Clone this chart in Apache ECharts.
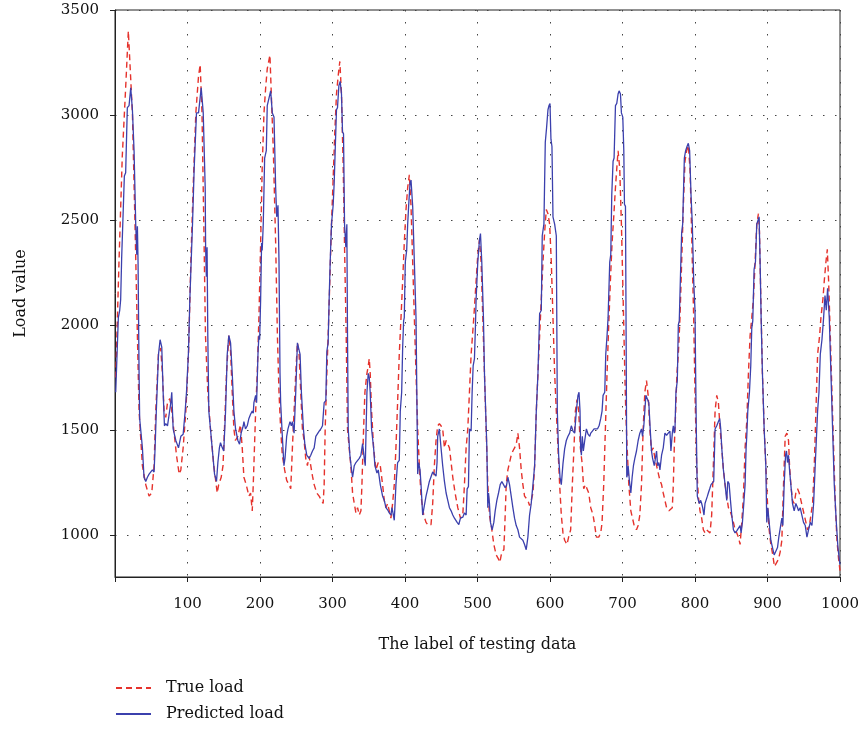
<!DOCTYPE html>
<html>
<head>
<meta charset="utf-8">
<script src="https://cdn.jsdelivr.net/npm/echarts@6/dist/echarts.min.js"></script>
<style>html,body{margin:0;padding:0;background:#fff}#c{width:863px;height:730px}</style>
</head>
<body>
<div id="c"></div>
<script>
const yTicks = [1000, 1500, 2000, 2500, 3000, 3500];
const seriesNames = ['True load', 'Predicted load'];

// [sample label, load value]
const trueLoad = [[1,1750],[5.5,2300],[10,2800],[14.7,3130],[18.4,3400],[24,3010],[27.6,2480],[30.9,1950],[33.2,1590],[37.8,1330],[42.4,1240],[47,1185],[50.7,1200],[53.9,1330],[56.2,1590],[59.9,1860],[63,1890],[65.4,1770],[67.7,1590],[70,1560],[72.4,1630],[75.6,1650],[78.3,1590],[81.6,1485],[84.8,1380],[88.5,1290],[90.8,1310],[94,1415],[97.7,1590],[101.4,1860],[104.6,2300],[107.8,2655],[111.5,3010],[115.2,3185],[117.5,3240],
[120,3010],[122.5,2480],[124.8,1950],[128,1680],[131.7,1505],[136.3,1330],[141,1200],[143,1240],[146.5,1275],[149,1330],[151,1505],[153.8,1770],[157,1950],[159.4,1875],[161.7,1680],[164,1505],[166,1450],[169.5,1470],[173,1525],[175.5,1415],[177.8,1275],[181,1240],[184.7,1185],[187,1200],[189.3,1115],[190.7,1240],[194,1590],[196.2,1770],[198.5,2035],[200.9,2390],[203,2745],[205.5,3010],[207.8,3130],[210,3220],[213.7,3285],[215.6,3100],[218.4,2830],[221.6,2390],[224,1950],[226.2,1680],[228.5,1505],[230.8,1380],[234,1310],[236.8,1260],[240,1240],
[242.4,1220],[244.7,1415],[247,1590],[249.3,1770],[251.6,1915],[253.9,1860],[256.2,1680],[258.5,1505],[260.8,1450],[263.1,1365],[265.4,1330],[267.7,1375],[270,1330],[272.4,1280],[274.7,1240],[278.3,1200],[281.6,1185],[284.8,1165],[287.1,1150],[288.5,1240],[289.9,1505],[292.2,1770],[294,1950],[296.3,2210],[298.6,2480],[301.4,2745],[303.2,2920],[305.5,3100],[307.8,3185],[310.1,3255],[312.4,3100],[314.8,2745],[317,2300],[318.9,1950],[320.7,1505],[323,1415],[325.3,1330],[327.7,1200],[330,1150],[332.3,1105],[334.6,1130],[336.9,1095],[339.2,1115],[340.6,1240],[342.9,1505],[344.7,1680],[347.5,1770],[349.3,1805],[350.7,1840],[352,1770],[353.9,1590],[356.7,1415],[359.9,1310],[363.1,1345],[365.9,1330],
[369.1,1240],[371.4,1165],[373.7,1130],[376,1150],[378.3,1115],[380.6,1080],[382.9,1150],[385.2,1240],[387.5,1415],[389.8,1630],[392.1,1860],[394.5,2035],[396.8,2210],[399,2390],[401.4,2550],[403.7,2655],[406,2715],[408.3,2565],[410.6,2300],[412.9,2035],[415.2,1770],[417.5,1505],[419.8,1330],[422.1,1185],[425.8,1095],[429,1060],[432.2,1045],[435.9,1050],[438.2,1150],[440.5,1330],[442.8,1450],[445.1,1520],[447.4,1530],[449.7,1520],[452,1505],[454.4,1415],[456.7,1450],[459,1450],[461.3,1415],[463.6,1345],[465.9,1275],[469.1,1200],[472.8,1130],[476.5,1080],[479.7,1095],[482,1240],[484.3,1415],[486.6,1505],[488.9,1680],[491.2,1860],[494.9,2035],[498.1,2210],[500.4,2335],[502.7,2405],
[505,2300],[507.3,2035],[509.6,1770],[511.9,1505],[514.2,1240],[516.5,1095],[519.8,1025],[522.5,955],[525.8,905],[529,885],[530.8,870],[533.6,920],[536.4,930],[538.2,1095],[539.6,1240],[541.9,1310],[544.2,1345],[546.5,1380],[548.8,1400],[551.1,1415],[553.4,1430],[555.7,1485],[558,1415],[560.3,1310],[562.6,1240],[564.9,1185],[567.2,1175],[569.5,1165],[571.8,1140],[574.1,1165],[576.5,1200],[578.8,1330],[581.1,1590],[583.4,1770],[585.7,1950],[588,2125],[590.3,2300],[592.6,2440],[594.9,2550],[597.2,2530],[599.5,2480],[601.8,2300],[604.1,2035],[606.4,1770],[608.7,1590],[611,1415],[613.3,1240],[615.6,1095],
[617.9,1010],[620.2,975],[623.4,955],[625.7,990],[628.5,1025],[630.8,1240],[633.1,1415],[635,1590],[637.3,1645],[639.6,1590],[641.9,1415],[644.2,1345],[646.5,1220],[648.8,1240],[651.1,1240],[653.4,1200],[656.2,1130],[659.4,1095],[661.7,1045],[664,990],[667.2,990],[670,1010],[671.8,1060],[674.1,1240],[676.4,1505],[678.7,1770],[681,2000],[683.3,2210],[685.6,2390],[687.9,2515],[690.3,2655],[692.1,2745],[693.9,2830],[696.2,2745],[698.5,2480],[700.9,2125],[703.2,1770],[704.5,1590],[706.4,1415],[708.7,1240],[711.5,1115],[713.8,1080],[716.1,1045],[719.3,1025],[721.6,1045],[723.9,1095],[726.2,1240],[728.5,1505],[730.8,1680],[733.1,1735],[735.4,1665],[737.7,1505],[740,1400],
[742.4,1415],[744.7,1365],[747,1330],[749.3,1295],[751.6,1260],[753.9,1240],[756.2,1200],[758.5,1165],[760.8,1130],[764.1,1115],[766.8,1115],[768.7,1130],[770.1,1240],[771.4,1415],[773.3,1590],[775.1,1770],[777,1860],[779.3,2035],[781.6,2300],[783.9,2565],[786.2,2780],[788.5,2830],[790.8,2855],[793.1,2745],[794.5,2565],[796.3,2300],[798.2,2035],[800,1680],[802.3,1330],[804.6,1185],[806.9,1115],[809.2,1080],[811.5,1025],[813.8,1010],[816.1,1025],[818.4,1025],[820.7,1010],[823,1095],[825.3,1330],[827.7,1590],[830,1665],[832.3,1630],[834.6,1505],[836.9,1415],[839.2,1310],[841.5,1240],[843.8,1185],[846.1,1130],[848.4,1115],[850.7,1090],[853,1060],[855.3,1025],[857.6,1010],[859.9,990],[862.2,955],[864.5,1060],[866.8,1185],[869.1,1415],[871.4,1540],
[873.7,1770],[876,1950],[878.3,2035],[880.6,2125],[882.9,2300],[885.2,2480],[887.5,2530],[888.9,2445],[890.8,2125],[893,1770],[895.4,1505],[897.7,1330],[900,1150],[902.3,1025],[904.6,955],[907.3,905],[909.6,850],[912,865],[915.2,885],[917.5,920],[919.8,975],[922.1,1240],[924.4,1470],[926.7,1485],[929,1450],[930.4,1330],[932.2,1240],[934.5,1165],[936.8,1150],[939.1,1200],[941.5,1220],[943.8,1200],[946.1,1165],[948.4,1130],[950.7,1095],[953,1060],[955.3,1025],[957.6,1040],[959.9,1095],[962.2,1150],[964.5,1330],[966.8,1590],[969.1,1860],[971.9,1950],[973.7,2035],[976.5,2125],[978.3,2210],[980.6,2300],[982.5,2360],[984.3,2210],[986.6,1950],[988.9,1680],[991.2,1415],[993.5,1150],[995.8,975],[998.1,885],[1000,830]];

const predictedLoad = [[1,1680],[4.6,2035],[6.5,2070],[7.8,2120],[9.2,2320],[11.5,2320],[12.9,2710],[14.7,2725],[17,3035],[19.4,3045],[21.7,3130],[24,3025],[26.3,2830],[28.6,2480],[30,2335],[30.9,2470],[31.8,2300],[33.2,1770],[34,1555],[36,1550],[37.8,1415],[40,1275],[42.4,1255],[44.7,1275],[47,1290],[49.3,1290],[51.6,1310],[53.9,1300],[55.3,1415],[57,1590],[60,1860],[62.2,1930],[64.5,1895],[66.4,1680],[68.2,1520],[70,1530],[72.4,1520],[74.7,1575],[77,1630],[78.3,1680],[80.2,1505],[83.9,1450],[87.6,1415],[90.8,1470],[94,1480],[96.8,1590],[98.6,1680],[101.4,1875],[103.2,2120],[106.9,2480],[109.2,2745],[112.4,3010],[115.2,3010],[118.9,3130],[121.7,3010],[124.4,2655],[125,2370],[126,2230],[127,2370],[128,1950],[129.4,1590],[131.7,1505],[134,1415],[137.3,1290],[140,1255],[141.9,1345],[144,1415],[145.5,1440],[148,1415],[150,1400],[152.5,1590],[154.8,1860],[157,1950],[159.4,1915],[161.7,1770],[164,1590],[166.3,1505],[169.5,1450],[171.8,1432],[174,1485],[176.9,1520],[177.8,1540],[180,1505],[182.4,1520],[184.7,1555],[187,1575],[189.3,1590],[190.7,1580],[191.6,1630],[194,1665],[195.3,1630],[197.2,1860],[198.5,1950],[199.5,1930],[200.9,2125],[202.2,2390],[203,2355],[204.5,2480],[206.4,2795],[208.7,2830],[210,3045],[212.4,3080],[214.7,3115],[217,3010],[219.3,2990],[221.6,2655],[223,2515],[224.8,2570],[226.2,2300],[227.6,1770],[228.5,1630],[230.8,1470],[233,1330],[234.5,1365],[236.8,1470],[238.6,1505],[241.4,1540],[243.2,1520],[244.7,1540],[247,1485],[249.3,1680],[251.6,1915],[253.5,1920],[255.3,1860],[257.1,1680],[259.9,1505],[261.8,1435],[264.5,1380],[267.7,1365],[270,1380],[272.4,1400],[274.7,1415],[277,1470],[279.3,1470],[281.6,1495],[283.9,1505],[286.2,1520],[288.5,1630],[290.8,1640],[292.2,1875],[294,1915],[295.4,2125],[296.8,2300],[298.6,2480],[300.9,2570],[302.3,2675],[303.7,2830],[305.5,3025],[306.9,3035],[308.8,3140],[310.6,3160],[312.4,3100],[313.8,2920],[315.2,2910],[316.6,2480],[318.4,2370],[319.8,2480],[320.7,1950],[321.7,1505],[324,1380],[326.3,1310],[327.7,1275],[330,1330],[332.3,1345],[334.6,1345],[336.9,1365],[339.2,1380],[341.5,1435],[343.8,1365],[345.2,1330],[347.5,1680],[349.3,1770],[350.7,1750],[352,1680],[353.9,1505],[356.7,1415],[358.5,1330],[361.3,1295],[363.1,1310],[365.9,1240],[369.1,1185],[371.4,1165],[373.7,1130],[376,1120],[378.3,1105],[380.6,1095],[382,1130],[383.4,1105],[385.2,1070],[387.5,1240],[389.8,1345],[392.1,1355],[393.5,1590],[395.4,1680],[396.8,1895],[398.1,2020],[399,2035],[400.4,2300],[402.3,2355],[403.7,2480],[405,2565],[406.9,2675],[408.3,2690],[410.6,2565],[412.9,2300],[415.2,2035],[417.5,1290],[418.9,1345],[420.7,1310],[422.1,1240],[424.4,1095],[426.7,1095],[429,1185],[431.3,1220],[433.6,1255],[435.9,1255],[438.2,1300],[440.5,1290],[442.8,1280],[444.2,1345],[445.1,1470],[447.4,1505],[449.7,1415],[452,1330],[454.4,1255],[456.7,1200],[459,1165],[461.3,1130],[463.6,1115],[465.9,1095],[468.2,1080],[471.9,1060],[474.2,1050],[476.5,1080],[478.3,1080],[479.7,1085],[482,1105],[484.3,1095],[485.7,1220],[487.5,1230],[488.9,1505],[491.2,1495],[492.6,1680],[494,1805],[495.8,1840],[497.2,2000],[498.1,2125],[500.4,2300],[502.7,2405],[504.1,2435],[505.9,2300],[508.2,2035],[509.6,1770],[511.9,1770],[512.9,1415],[514.2,1130],[515.2,1200],[516.5,1150],[517.9,1060],[520.2,1025],[522.5,1060],[524.4,1115],[526.7,1165],[529,1200],[531.3,1240],[533.6,1255],[535.9,1240],[538.2,1225],[540,1235],[541.9,1275],[544.2,1240],[546.5,1185],[548.8,1130],[551.1,1080],[553.4,1045],[555.7,1025],[558,990],[560.3,990],[562.6,975],[564.9,955],[567.2,930],[569.5,990],[571.8,1095],[574.1,1150],[576.5,1240],[578.8,1330],[581.1,1590],[583.4,1770],[585.7,2055],[588,2070],[589.3,2425],[591.6,2480],[593.5,2870],[595.3,2940],[597.2,3025],[598.6,3045],[600,3055],[601.3,2885],[602.7,2850],[604.1,2515],[606.4,2480],[608.7,2425],[610.1,1590],[611.9,1380],[613.8,1275],[615.6,1240],[617.9,1340],[620.2,1410],[622.5,1450],[624.8,1470],[627.1,1485],[629.4,1520],[631.7,1495],[634,1485],[636.3,1590],[638.6,1665],[640,1680],[641.4,1590],[642.3,1415],[643.3,1380],[644.6,1470],[646,1400],[647.9,1450],[650.2,1505],[652.5,1480],[654.8,1470],[656.2,1485],[658.5,1495],[660.8,1505],[663.1,1505],[665.4,1505],[667.7,1520],[670,1555],[671.8,1590],[673.2,1665],[675.5,1680],[676.9,1860],[678.7,1950],[680.1,2035],[682.4,2300],[683.8,2335],[685.2,2620],[687,2780],[688.4,2795],[690.3,3045],[692.1,3055],[693.9,3100],[695.3,3115],[697.2,3100],[698.5,3010],[700.4,2990],[701.8,2830],[702.7,2575],[704.1,2565],[705,1950],[705.9,1275],[706.8,1290],[707.8,1330],[709.6,1255],[711.5,1200],[713.3,1275],[715.1,1330],[717,1365],[719.3,1400],[721.6,1450],[723.9,1485],[726.2,1505],[727.6,1470],[729.4,1520],[730.8,1590],[732.2,1665],[734.5,1665],[736.3,1630],[738.2,1505],[740,1400],[741.5,1365],[743.8,1330],[745.6,1330],[747,1400],[748.4,1330],[750.2,1345],[751.6,1310],[753.9,1380],[756.2,1415],[758.5,1485],[760.8,1475],[763.1,1485],[765.4,1495],[766.8,1400],[768.7,1485],[770.1,1520],[771.4,1485],[772.4,1505],[773.7,1680],[775.6,1735],[777,2000],[778.3,2020],[780.2,2265],[781.6,2440],[783,2480],[785.3,2795],[787.1,2830],[789,2850],[790.8,2865],[792.6,2830],[794.5,2620],[796.3,2480],[798.2,2210],[800,2070],[800.9,1770],[801.8,1505],[803.2,1185],[804.6,1165],[806,1150],[807.8,1165],[809.2,1150],[810.6,1130],[812.4,1095],[813.8,1150],[815.2,1165],[817.1,1185],[818.4,1200],[820.3,1220],[822.1,1240],[824,1240],[825.8,1255],[827.7,1505],[830,1520],[832.3,1540],[834.1,1555],[835.5,1505],[836.9,1415],[839.2,1310],[841.5,1240],[843.8,1165],[845.2,1255],[847,1245],[848.9,1165],[850.7,1095],[853,1025],[855.3,1010],[857.6,1020],[859.9,1025],[862.2,1045],[863.6,1010],[865.4,1060],[867.3,1150],[869.1,1240],[870.5,1415],[871.4,1470],[872.8,1590],[875.1,1680],[876.9,1805],[878.3,1985],[879.7,2020],[881.5,2265],[883.4,2300],[885.2,2480],[886.6,2495],[888.4,2515],[889.8,2300],[891.2,2035],[893,1770],[895.4,1505],[897.7,1330],[899,1060],[900.4,1130],[902.3,1060],[904.6,975],[906.9,940],[909.2,905],[911.5,905],[913.8,940],[915.6,990],[917.5,990],[919.8,1080],[921.2,1045],[923,1240],[924.9,1380],[926.2,1400],[927.6,1345],[929,1380],[930.4,1310],[932.2,1240],[934.5,1150],[936.8,1115],[939.1,1150],[941.5,1130],[942.8,1115],[945.1,1130],[947.4,1095],[949.7,1060],[952.1,1045],[954.4,990],[956.6,1025],[959,1060],[961.3,1045],[963.6,1150],[965.8,1330],[967.3,1330],[969.1,1590],[971,1680],[972.8,1860],[975.1,1930],[977.4,2035],[979.3,2140],[981.1,2070],[982.9,2175],[985.2,2035],[987.5,1770],[989.8,1505],[992.1,1240],[994.9,1060],[997.2,940],[999.5,870],[1000,860]];

const FONT = 'DejaVu Serif';
const chart = echarts.init(document.getElementById('c'), null, {renderer: 'canvas'});
chart.setOption({
  animation: false,
  backgroundColor: '#fff',
  grid: {left: 115, right: 23, top: 10, bottom: 153, show: true, borderColor: '#222', borderWidth: 1, backgroundColor: 'transparent'},
  legend: {
    orient: 'vertical', left: 115, top: 680, padding: 0, itemWidth: 35, itemHeight: 14, itemGap: 10,
    itemStyle: {opacity: 0, borderWidth: 0},
    textStyle: {fontFamily: FONT, fontSize: 16, color: '#111', padding: [0, 0, 0, 10]},
    data: seriesNames
  },
  xAxis: {
    type: 'value', min: 0, max: 1000, interval: 100,
    name: 'The label of testing data', nameLocation: 'middle', nameGap: 60,
    nameTextStyle: {fontFamily: FONT, fontSize: 16, color: '#111'},
    axisLine: {lineStyle: {color: '#222', width: 1}},
    axisTick: {show: true, inside: false, length: 5, lineStyle: {color: '#222'}},
    axisLabel: {fontFamily: FONT, fontSize: 15, color: '#111', margin: 20,
      formatter: v => (v === 0 ? '' : String(v))},
    splitLine: {show: true, lineStyle: {color: '#444', width: 1, type: [1.5, 10.5]}}
  },
  yAxis: {
    type: 'value', min: 800, max: 3500,
    name: 'Load value', nameLocation: 'middle', nameGap: 86,
    nameTextStyle: {fontFamily: FONT, fontSize: 16, color: '#111'},
    axisLine: {show: true, lineStyle: {color: '#222', width: 1}},
    axisTick: {show: true, inside: false, length: 5, lineStyle: {color: '#222'}, customValues: yTicks},
    axisLabel: {fontFamily: FONT, fontSize: 15, color: '#111', margin: 16, customValues: yTicks,
      formatter: v => String(v)},
    splitLine: {show: true, lineStyle: {color: '#444', width: 1, type: [1.5, 10.5]}}
  },
  series: [
    {name: seriesNames[0], type: 'line', data: trueLoad, symbol: 'none', z: 2,
      lineStyle: {color: '#e5322c', width: 1.4, type: [6, 4]}, itemStyle: {color: '#e5322c'}},
    {name: seriesNames[1], type: 'line', data: predictedLoad, symbol: 'none', z: 3,
      lineStyle: {color: '#3b40ad', width: 1.3}, itemStyle: {color: '#3b40ad'}}
  ]
});
</script>
</body>
</html>
